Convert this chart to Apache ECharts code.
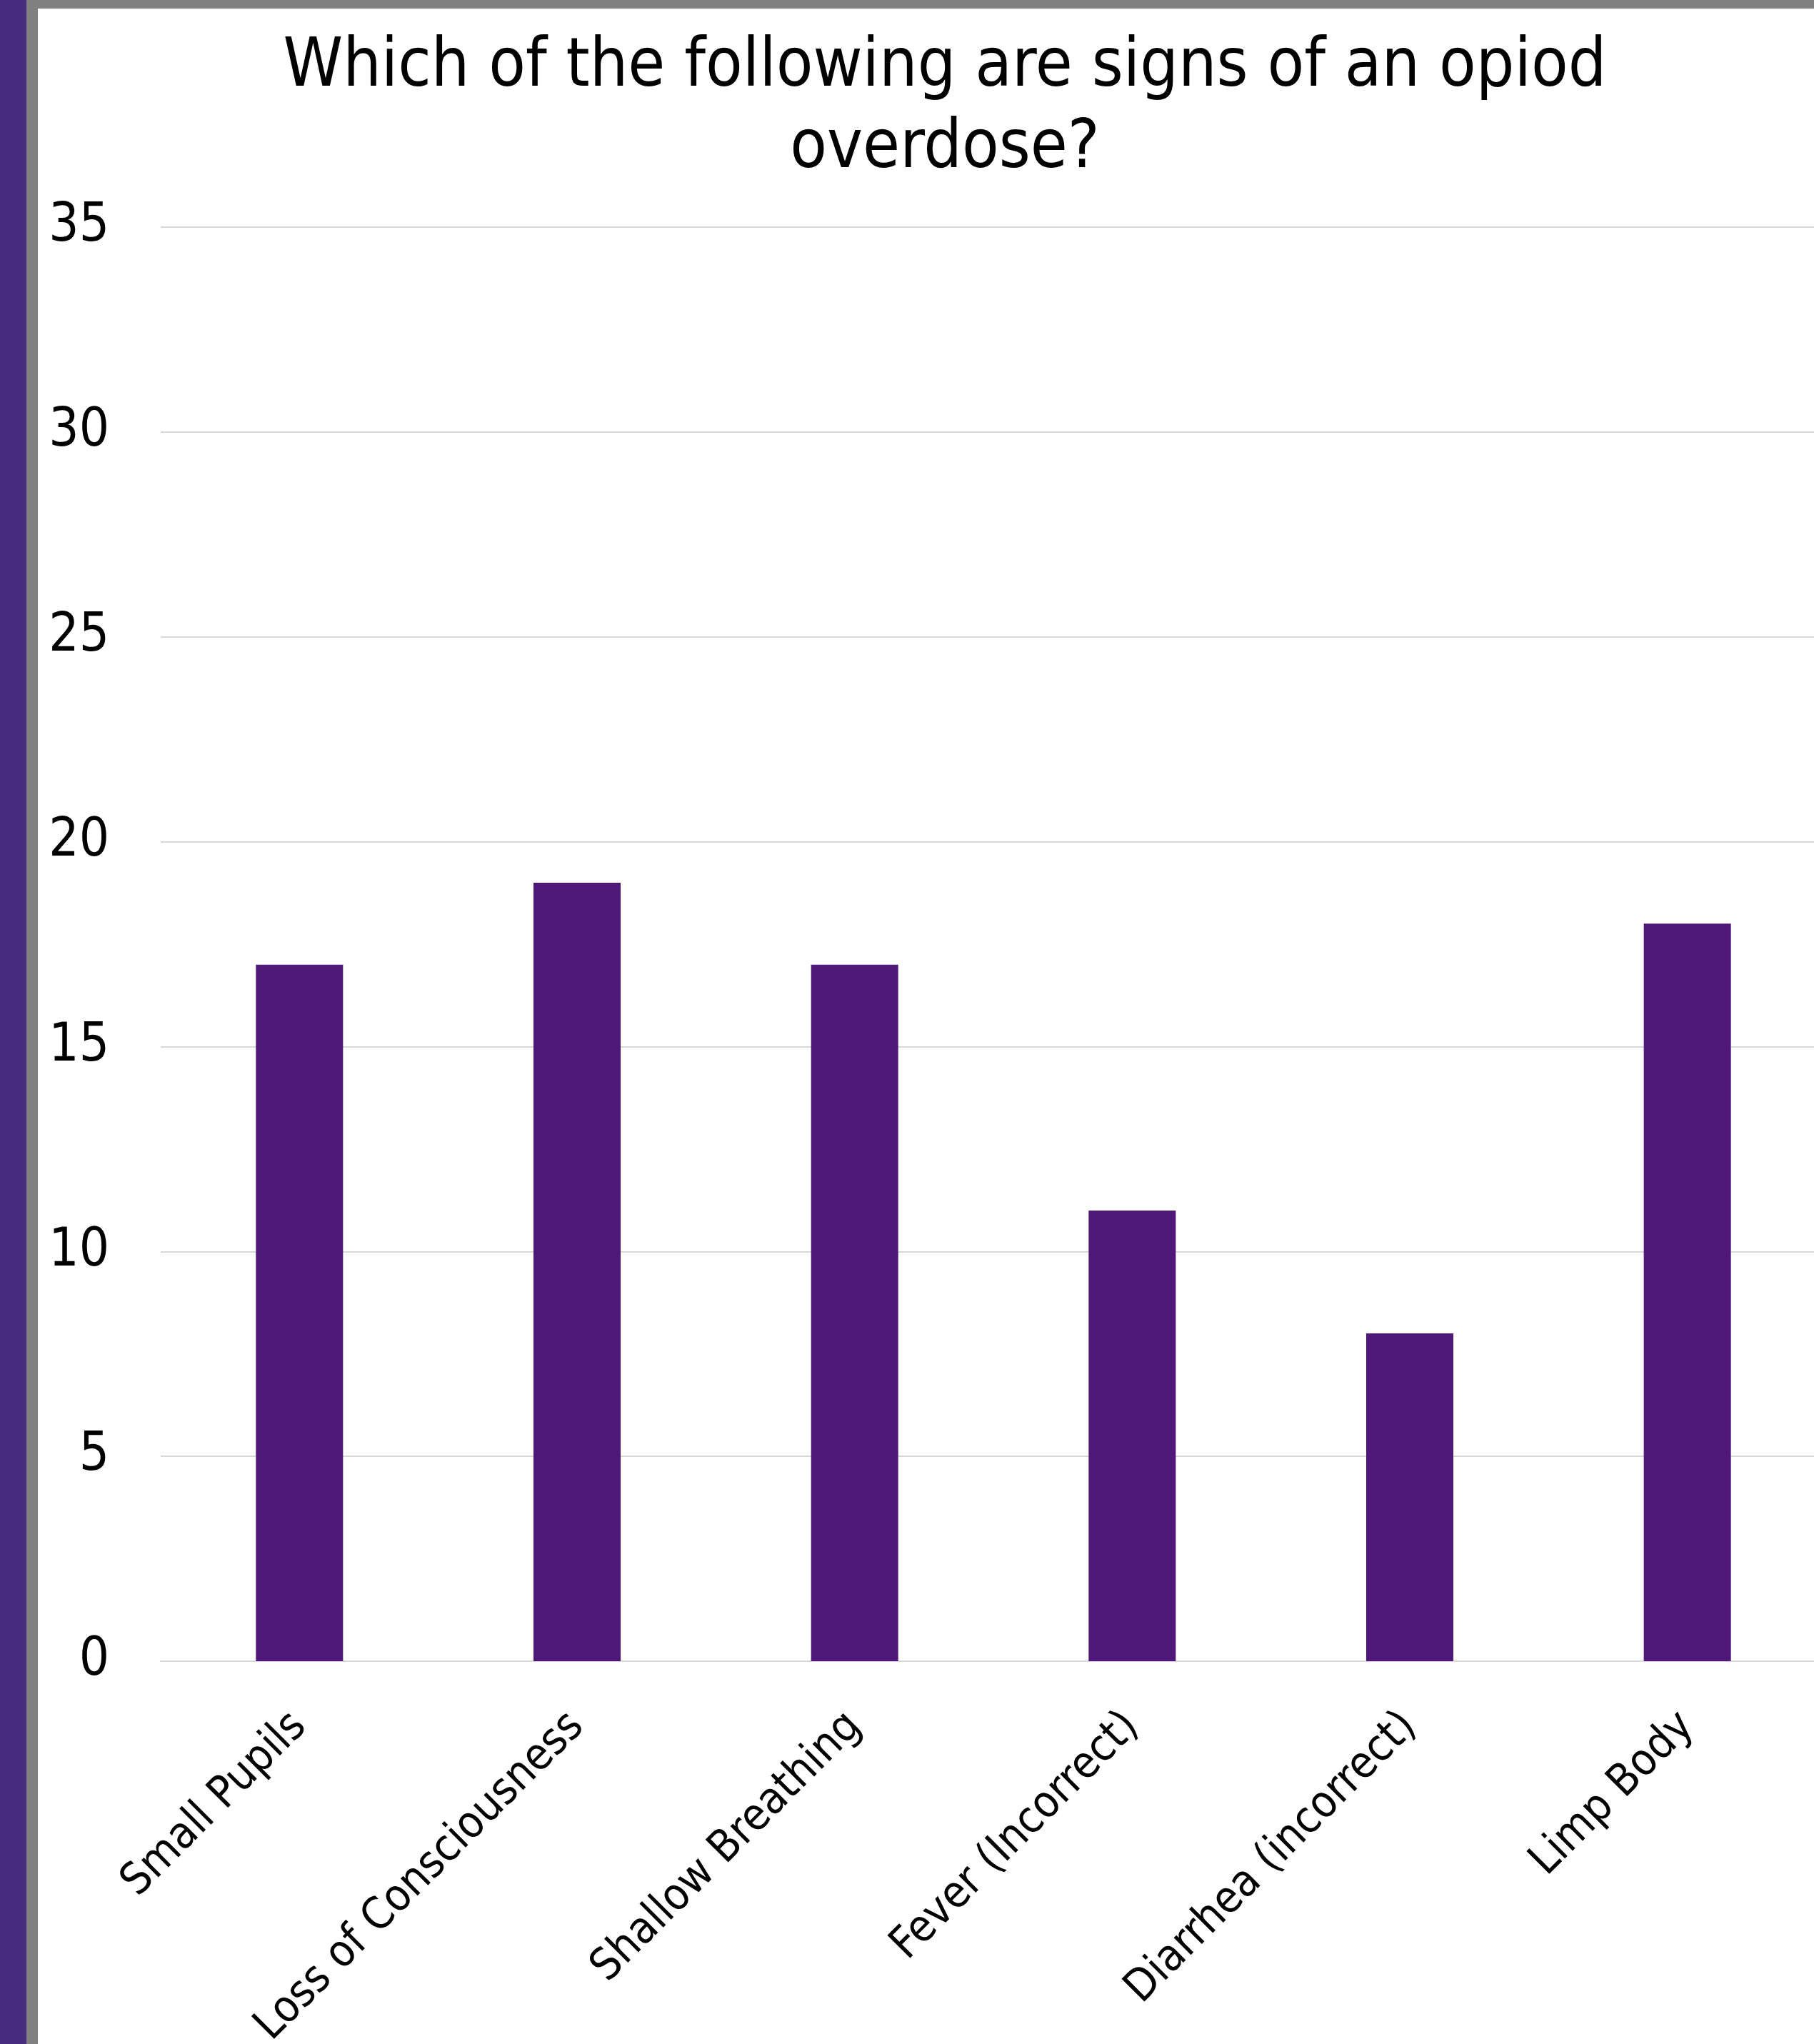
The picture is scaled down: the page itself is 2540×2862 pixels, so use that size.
<!DOCTYPE html>
<html>
<head>
<meta charset="utf-8">
<style>
  html, body { margin: 0; padding: 0; background: #ffffff; }
  #chart { width: 2540px; height: 2862px; }
</style>
<script src="https://cdn.jsdelivr.net/npm/echarts@6/dist/echarts.min.js"></script>
</head>
<body>
<div id="chart"></div>
<script>
const categories = ["Small Pupils", "Loss of Consciousness", "Shallow Breathing", "Fever (Incorrect)", "Diarrhea (incorrect)", "Limp Body"];
const responses = [17, 19, 17, 11, 8, 18];
const yTicks = [0, 5, 10, 15, 20, 25, 30, 35];
const titleLines = ["Which of the following are signs of an opiod", "overdose?"];

const FONT = '"DejaVu Sans Condensed", "DejaVu Sans", sans-serif';
const chart = echarts.init(document.getElementById('chart'), null, { renderer: 'canvas' });
chart.setOption({
  backgroundColor: '#ffffff',
  animation: false,
  title: {
    text: titleLines.join('\n'),
    left: 1318,
    top: 34,
    textAlign: 'center',
    textStyle: { fontFamily: FONT, fontSize: 94, fontWeight: 'normal', color: '#000000', lineHeight: 114 }
  },
  grid: { left: 225, width: 2332, top: 318, height: 2008, containLabel: false, outerBoundsMode: 'none' },
  xAxis: {
    type: 'category',
    data: categories,
    axisLine: { show: true, lineStyle: { color: '#d9d9d9', width: 2 } },
    axisTick: { show: false },
    axisLabel: { rotate: 45, margin: 82, fontFamily: FONT, fontSize: 62, color: '#000000', interval: 0 }
  },
  yAxis: {
    type: 'value',
    min: yTicks[0],
    max: yTicks[yTicks.length - 1],
    interval: 5,
    axisLine: { show: false },
    axisTick: { show: false },
    splitLine: { lineStyle: { color: '#d9d9d9', width: 2 } },
    axisLabel: { margin: 72, fontFamily: FONT, fontSize: 74, color: '#000000' }
  },
  series: [{
    type: 'bar',
    data: responses,
    barWidth: 122,
    itemStyle: { color: '#4F1878' }
  }],
  graphic: [
    { type: 'rect', shape: { x: 0, y: 0, width: 37, height: 2862 }, style: { fill: '#482C7D' }, z: 100 },
    { type: 'rect', shape: { x: 37, y: 0, width: 16, height: 2862 }, style: { fill: '#808080' }, z: 100 },
    { type: 'rect', shape: { x: 37, y: 0, width: 2503, height: 12 }, style: { fill: '#808080' }, z: 100 }
  ]
});
</script>
</body>
</html>
